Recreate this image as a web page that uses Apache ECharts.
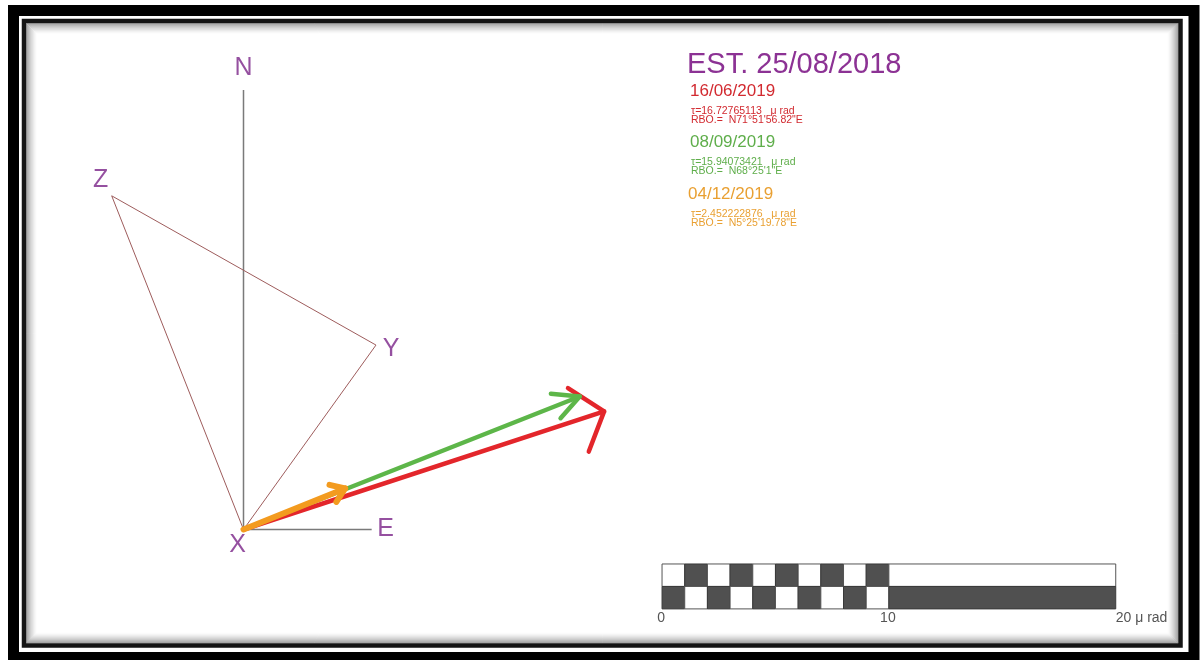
<!DOCTYPE html>
<html>
<head>
<meta charset="utf-8">
<script src="https://cdn.jsdelivr.net/npm/echarts@6/dist/echarts.min.js"></script>
<style>
  html, body { margin: 0; padding: 0; background: #ffffff; }
  #chart { width: 1204px; height: 660px; }
</style>
</head>
<body>
<div id="chart"></div>
<script>
// ---- Station and tilt data (µrad; bearings in degrees clockwise from north) ----
const stationTitle = 'EST. 25/08/2018';
const surveyDates = ['16/06/2019', '08/09/2019', '04/12/2019'];
const tiltLabels = ['τ=16.72765113   μ rad', 'τ=15.94073421   μ rad', 'τ=2.452222876   μ rad'];
const bearingLabels = ['RBO.=  N71°51\'56.82"E', 'RBO.=  N68°25\'1"E', 'RBO.=  N5°25\'19.78"E'];
const vectorMagnitudes = [16.72765113, 15.94073421, 4.83];
const vectorBearings = [71.865783, 68.416944, 68.0];

// Reference triangle X - Z - Y - X (east, north in µrad)
const triangleEast = [0, -5.81, 5.84, 0];
const triangleNorth = [0, 14.71, 8.13, 0];
const vertexNames = ['X', 'Z', 'Y'];

// Compass reference lines
const northLength = 19.37;
const eastLength = 5.65;

// Scale bar
const scaleTicks = [0, 10, 20];
const scaleUnit = 'μ rad';

// ---- Styling ----
const vectorColors = ['#E3262B', '#5DB649', '#F39B1F'];
const textColors = ['#D22A30', '#5FAE4B', '#E9A032'];
const arrowStyles = [
  { width: 4.5, head: 43, spread: 51 },
  { width: 4.5, head: 29, spread: 27 },
  { width: 6, head: 16, spread: 35 }
];
const purple = '#7A2488';
const font = '"Liberation Sans", Arial, sans-serif';

// Scale bar placement (µrad in the same coordinate system)
const barStartEast = 18.45;
const barRowTop = -1.52;
const barRowHeight = 0.99;

// Vector tips in east/north components
const vectorData = vectorMagnitudes.map((m, i) => {
  const b = vectorBearings[i] * Math.PI / 180;
  return [m * Math.sin(b), m * Math.cos(b)];
});

// Scale bar cells: [eastFrom, eastTo, row, dark]
const scaleCells = [];
for (let k = scaleTicks[0]; k < scaleTicks[1]; k++) {
  scaleCells.push([k, k + 1, 0, k % 2 === 1 ? 1 : 0]);
  scaleCells.push([k, k + 1, 1, k % 2 === 0 ? 1 : 0]);
}
scaleCells.push([scaleTicks[1], scaleTicks[2], 0, 0]);
scaleCells.push([scaleTicks[1], scaleTicks[2], 1, 1]);

// Point labels
const labelPoints = [
  { value: [0, northLength], text: 'N', offset: [0, -22] },
  { value: [eastLength, 0], text: 'E', offset: [14, 0] },
  { value: [triangleEast[0], triangleNorth[0]], text: vertexNames[0], offset: [-6, 16] },
  { value: [triangleEast[1], triangleNorth[1]], text: vertexNames[1], offset: [-11, -16] },
  { value: [triangleEast[2], triangleNorth[2]], text: vertexNames[2], offset: [15, 4] }
];

// ---- Frame graphics ----
const frame = [
  { type: 'rect', shape: { x: 13.5, y: 10.5, width: 1180.5, height: 647 },
    style: { fill: null, stroke: '#000', lineWidth: 11 }, silent: true },
  { type: 'rect', shape: { x: 24, y: 21, width: 1156.5, height: 624.5 },
    style: { fill: null, stroke: '#151515', lineWidth: 4.5 }, silent: true }
];
for (let i = 0; i < 11; i++) {
  const a = 0.38 * Math.pow(1 - i / 11, 1.6);
  frame.push({ type: 'rect',
    shape: { x: 26.75 + i, y: 23.75 + i, width: 1151 - 2 * i, height: 619 - 2 * i },
    style: { fill: null, stroke: 'rgba(0,0,0,' + a.toFixed(3) + ')', lineWidth: 1 }, silent: true });
}

// ---- Legend text block ----
const textBlock = [
  { type: 'text', left: 687, top: 50, style: { text: stationTitle, fill: '#8C3294', font: '29px ' + font } }
];
const blockTops = [83, 134, 186];
surveyDates.forEach((d, i) => {
  const t = blockTops[i];
  textBlock.push({ type: 'text', left: i === 2 ? 688 : 690, top: t, style: { text: d, fill: textColors[i], font: '17px ' + font } });
  textBlock.push({ type: 'text', left: 691, top: t + 23, style: { text: tiltLabels[i], fill: textColors[i], font: '10.5px ' + font } });
  textBlock.push({ type: 'text', left: 691, top: t + 32, style: { text: bearingLabels[i], fill: textColors[i], font: '10.5px ' + font } });
});

const chart = echarts.init(document.getElementById('chart'));
const scale = 22.685;
chart.setOption({
  animation: false,
  backgroundColor: '#ffffff',
  grid: { left: 16.65, top: 30.43, width: 51 * scale, height: 27 * scale },
  xAxis: { type: 'value', min: -10, max: 41, show: false },
  yAxis: { type: 'value', min: -5, max: 22, show: false },
  graphic: frame.concat(textBlock),
  series: [
    { type: 'line', data: [[0, 0], [0, northLength]], symbol: 'none',
      lineStyle: { color: '#7a7a7a', width: 1.5 }, silent: true, z: 1 },
    { type: 'line', data: [[0, 0], [eastLength, 0]], symbol: 'none',
      lineStyle: { color: '#7a7a7a', width: 1.5 }, silent: true, z: 1 },
    { type: 'line', data: triangleEast.map((e, i) => [e, triangleNorth[i]]), symbol: 'none',
      lineStyle: { color: '#9E5C5C', width: 1 }, silent: true, z: 1 },
    {
      type: 'custom', z: 3, clip: false,
      data: vectorData,
      encode: { x: 0, y: 1 },
      renderItem: function (params, api) {
        const i = params.dataIndex;
        const st = arrowStyles[i];
        const p0 = api.coord([0, 0]);
        const p1 = api.coord([api.value(0), api.value(1)]);
        const ang = Math.atan2(p1[1] - p0[1], p1[0] - p0[0]);
        const sp = st.spread * Math.PI / 180;
        const h1 = [p1[0] + st.head * Math.cos(ang + Math.PI - sp), p1[1] + st.head * Math.sin(ang + Math.PI - sp)];
        const h2 = [p1[0] + st.head * Math.cos(ang + Math.PI + sp), p1[1] + st.head * Math.sin(ang + Math.PI + sp)];
        return {
          type: 'group',
          children: [
            { type: 'line', shape: { x1: p0[0], y1: p0[1], x2: p1[0], y2: p1[1] },
              style: { stroke: vectorColors[i], lineWidth: st.width, lineCap: 'round' } },
            { type: 'polyline', shape: { points: [h1, p1, h2] },
              style: { stroke: vectorColors[i], lineWidth: st.width, fill: null, lineCap: 'round', lineJoin: 'round' } }
          ]
        };
      }
    },
    {
      type: 'scatter', symbolSize: 0, z: 4, silent: true,
      data: labelPoints.map(p => ({
        value: p.value,
        label: { show: true, position: 'inside', offset: p.offset, formatter: p.text,
          color: purple, fontSize: 25, fontFamily: font }
      }))
    },
    {
      type: 'custom', z: 2, clip: false, silent: true,
      data: scaleCells,
      encode: { x: [0, 1] },
      renderItem: function (params, api) {
        const a = api.coord([barStartEast + api.value(0), barRowTop - api.value(2) * barRowHeight]);
        const b = api.coord([barStartEast + api.value(1), barRowTop - (api.value(2) + 1) * barRowHeight]);
        const dark = api.value(3) === 1;
        return {
          type: 'rect',
          shape: { x: a[0], y: a[1], width: b[0] - a[0], height: b[1] - a[1] },
          style: { fill: dark ? '#505050' : '#ffffff', stroke: dark ? '#3a3a3a' : '#555', lineWidth: 1 }
        };
      }
    },
    {
      type: 'custom', z: 2, clip: false, silent: true,
      data: scaleTicks.map(v => [v]),
      encode: { x: 0 },
      renderItem: function (params, api) {
        const v = api.value(0);
        const p = api.coord([barStartEast + v, barRowTop - 2 * barRowHeight]);
        const last = params.dataIndex === scaleTicks.length - 1;
        return {
          type: 'text',
          x: last ? p[0] : p[0] - 1,
          y: p[1] + 9,
          style: { text: last ? v + ' ' + scaleUnit : String(v), fill: '#555', font: '14px ' + font,
            align: last ? 'left' : 'center', verticalAlign: 'middle' }
        };
      }
    }
  ]
});
</script>
</body>
</html>
